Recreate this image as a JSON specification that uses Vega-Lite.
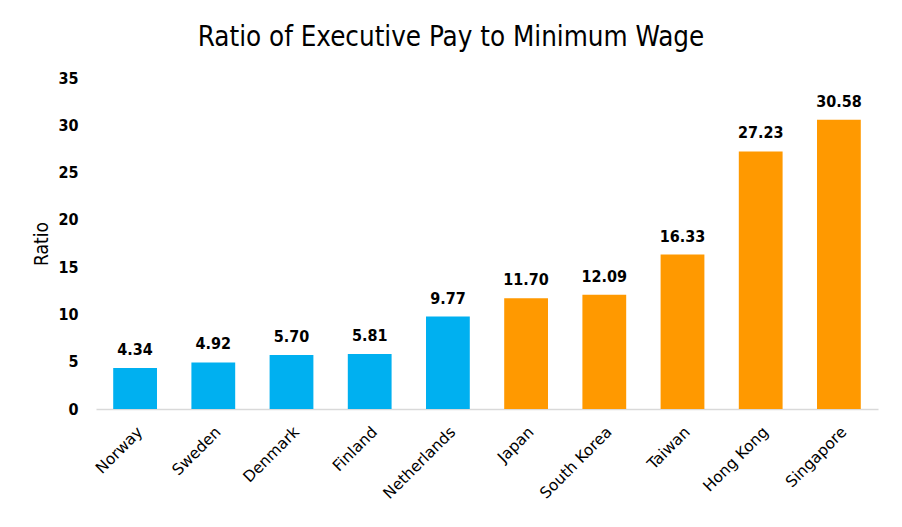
{
  "$schema": "https://vega.github.io/schema/vega-lite/v6.json",
  "autosize": {"type": "none"},
  "padding": {"left": 96, "top": 78, "right": 24, "bottom": 118},
  "width": 782,
  "height": 331,
  "background": "white",
  "config": {"view": {"stroke": null}},
  "title": {
    "text": "Ratio of Executive Pay to Minimum Wage",
    "font": "DejaVu Sans Condensed",
    "fontSize": 27.5,
    "fontWeight": "normal",
    "color": "#000000",
    "anchor": "middle",
    "frame": "group",
    "dx": -36,
    "offset": 19
  },
  "data": {
    "values": [
      {"country": "Norway", "ratio": 4.34, "group": "Nordic"},
      {"country": "Sweden", "ratio": 4.92, "group": "Nordic"},
      {"country": "Denmark", "ratio": 5.70, "group": "Nordic"},
      {"country": "Finland", "ratio": 5.81, "group": "Nordic"},
      {"country": "Netherlands", "ratio": 9.77, "group": "Nordic"},
      {"country": "Japan", "ratio": 11.70, "group": "Asia"},
      {"country": "South Korea", "ratio": 12.09, "group": "Asia"},
      {"country": "Taiwan", "ratio": 16.33, "group": "Asia"},
      {"country": "Hong Kong", "ratio": 27.23, "group": "Asia"},
      {"country": "Singapore", "ratio": 30.58, "group": "Asia"}
    ]
  },
  "encoding": {
    "x": {
      "field": "country",
      "type": "nominal",
      "sort": null,
      "scale": {"paddingInner": 0.44, "paddingOuter": 0.22},
      "axis": {
        "title": null,
        "labelAngle": -45,
        "labelFont": "DejaVu Sans",
        "labelFontSize": 15.5,
        "labelColor": "#000000",
        "labelPadding": 15,
        "ticks": false,
        "domainColor": "#D9D9D9",
        "domainWidth": 1.5
      }
    },
    "y": {
      "field": "ratio",
      "type": "quantitative",
      "scale": {"domain": [0, 35]},
      "axis": {
        "title": "Ratio",
        "titleFont": "DejaVu Sans Condensed",
        "titleFontSize": 19,
        "titleFontWeight": "normal",
        "titleColor": "#000000",
        "titlePadding": 6,
        "values": [0, 5, 10, 15, 20, 25, 30, 35],
        "labelFont": "DejaVu Sans Condensed",
        "labelFontSize": 16,
        "labelFontWeight": "bold",
        "labelColor": "#000000",
        "labelPadding": 18,
        "ticks": false,
        "domain": false,
        "grid": false
      }
    }
  },
  "layer": [
    {
      "mark": {"type": "bar"},
      "encoding": {
        "color": {
          "field": "group",
          "type": "nominal",
          "scale": {"domain": ["Nordic", "Asia"], "range": ["#00B0F0", "#FF9900"]},
          "legend": null
        }
      }
    },
    {
      "mark": {
        "type": "text",
        "baseline": "bottom",
        "dy": -10,
        "font": "DejaVu Sans Condensed",
        "fontSize": 16,
        "fontWeight": "bold",
        "color": "#000000"
      },
      "encoding": {
        "text": {"field": "ratio", "type": "quantitative", "format": ".2f"}
      }
    }
  ]
}
